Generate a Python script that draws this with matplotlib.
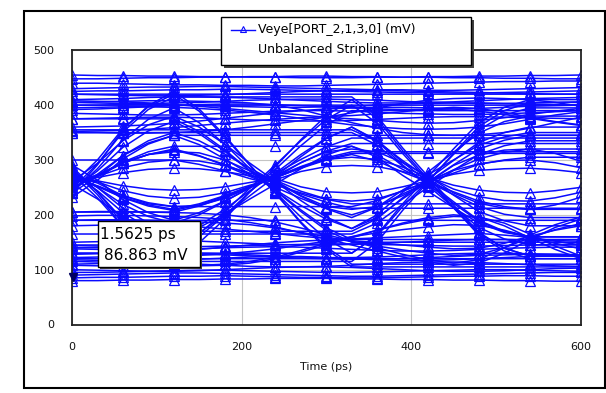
import matplotlib
matplotlib.use("Agg")
import matplotlib.pyplot as plt
from matplotlib.patches import Rectangle
from matplotlib.lines import Line2D

# Sample times (ps) shared by every trace, markers on every second sample.
TIME_PS = [0, 30, 60, 90, 120, 150, 180, 210, 240, 270, 300,
           330, 360, 390, 420, 450, 480, 510, 540, 570, 600]

# Main eye: transitions crossing near 20 / 230 / 420 ps.
EYE_TRACES = [
    [276, 244, 204, 176, 160, 180, 210, 244, 276, 310, 340, 360, 336, 296, 260, 224, 190, 170, 160, 160, 160],
    [246, 274, 308, 331, 345, 328, 302, 274, 246, 217, 192, 175, 195, 229, 260, 291, 320, 336, 345, 345, 345],
    [375, 375, 375, 375, 375, 352, 319, 280, 244, 206, 172, 150, 150, 150, 150, 150, 150, 150, 150, 150, 150],
    [190, 190, 190, 190, 190, 204, 225, 249, 271, 295, 316, 330, 330, 330, 330, 330, 330, 330, 330, 330, 330],
    [280, 250, 212, 185, 170, 170, 170, 170, 170, 170, 170, 170, 193, 231, 265, 299, 332, 350, 360, 360, 360],
    [240, 270, 308, 335, 350, 350, 350, 350, 350, 350, 350, 350, 327, 289, 255, 221, 188, 169, 160, 160, 160],
    [275, 250, 219, 197, 185, 200, 224, 250, 275, 301, 324, 340, 340, 340, 340, 340, 340, 340, 340, 340, 340],
    [245, 280, 323, 353, 370, 348, 316, 280, 245, 209, 176, 155, 155, 155, 155, 155, 155, 155, 155, 155, 155],
    [355, 355, 355, 355, 355, 355, 355, 355, 355, 355, 355, 355, 334, 299, 267, 236, 206, 189, 180, 180, 180],
    [165, 165, 165, 165, 165, 165, 165, 165, 165, 165, 165, 165, 185, 219, 250, 281, 310, 326, 335, 335, 335],
    [291, 263, 228, 204, 190, 190, 190, 190, 190, 190, 190, 190, 190, 190, 190, 190, 190, 190, 190, 190, 190],
    [232, 263, 302, 329, 345, 345, 345, 345, 345, 345, 345, 345, 345, 345, 345, 345, 345, 345, 345, 345, 345],
    [261, 294, 335, 364, 380, 360, 329, 294, 261, 226, 196, 175, 200, 241, 278, 314, 349, 370, 380, 380, 380],
    [256, 229, 196, 173, 160, 177, 201, 229, 256, 284, 309, 325, 305, 272, 243, 213, 185, 168, 160, 160, 160],
    [350, 350, 350, 350, 350, 335, 311, 285, 260, 234, 211, 195, 214, 245, 273, 300, 327, 342, 350, 350, 350],
    [145, 145, 145, 145, 145, 167, 199, 235, 270, 306, 339, 360, 334, 291, 253, 214, 177, 156, 145, 145, 145],
]

# Inner (small-swing) eye traces.
INNER_EYE_TRACES = [
    [268, 252, 232, 218, 210, 220, 235, 252, 268, 285, 300, 310, 298, 278, 260, 242, 225, 215, 210, 210, 210],
    [250, 270, 294, 310, 320, 308, 290, 270, 250, 230, 212, 200, 214, 238, 260, 282, 302, 314, 320, 320, 320],
    [300, 300, 300, 300, 300, 292, 280, 266, 254, 240, 228, 220, 220, 220, 220, 220, 220, 220, 220, 220, 220],
    [205, 205, 205, 205, 205, 216, 232, 251, 269, 288, 304, 315, 315, 315, 315, 315, 315, 315, 315, 315, 315],
    [267, 253, 235, 222, 215, 215, 215, 215, 215, 215, 215, 215, 226, 244, 260, 276, 292, 300, 305, 305, 305],
    [250, 270, 296, 315, 325, 325, 325, 325, 325, 325, 325, 325, 309, 283, 260, 237, 215, 201, 195, 195, 195],
    [268, 252, 231, 216, 208, 218, 234, 252, 268, 286, 302, 312, 312, 312, 312, 312, 312, 312, 312, 312, 312],
    [257, 273, 295, 310, 318, 307, 292, 273, 257, 238, 223, 212, 212, 212, 212, 212, 212, 212, 212, 212, 212],
]

# Arcs bulging inside the eye openings.
ARC_TRACES = [
    [262, 270, 286, 296, 300, 298, 290, 276, 263, 243, 229, 225, 229, 243, 261, 281, 293, 299, 300, 295, 286],
    [268, 260, 244, 234, 230, 232, 240, 254, 267, 287, 301, 305, 301, 287, 269, 247, 233, 226, 225, 231, 241],
    [262, 268, 277, 283, 285, 284, 279, 271, 264, 279, 288, 290, 288, 279, 268, 254, 245, 241, 240, 244, 250],
    [268, 262, 253, 247, 245, 246, 251, 259, 266, 251, 242, 240, 242, 251, 262, 274, 281, 284, 285, 282, 277],
    [258, 272, 295, 310, 315, 313, 300, 280, 262, 235, 215, 210, 215, 235, 259, 290, 309, 318, 320, 312, 298],
    [272, 258, 235, 220, 215, 217, 230, 250, 268, 295, 315, 320, 315, 295, 271, 240, 221, 212, 210, 218, 232],
]

# Wide-swing eye traces, same crossing times.
WIDE_EYE_TRACES = [
    [288, 242, 184, 143, 120, 149, 192, 242, 288, 337, 381, 410, 375, 317, 265, 213, 163, 134, 120, 120, 120],
    [241, 284, 337, 374, 395, 368, 329, 284, 241, 196, 156, 130, 162, 215, 262, 310, 355, 382, 395, 395, 395],
    [420, 420, 420, 420, 420, 389, 342, 290, 240, 187, 141, 110, 110, 110, 110, 110, 110, 110, 110, 110, 110],
    [140, 140, 140, 140, 140, 166, 205, 249, 291, 335, 374, 400, 400, 400, 400, 400, 400, 400, 400, 400, 400],
    [283, 237, 179, 138, 115, 115, 115, 115, 115, 115, 115, 115, 150, 208, 260, 312, 361, 390, 405, 405, 405],
    [247, 293, 351, 392, 415, 415, 415, 415, 415, 415, 415, 415, 380, 322, 270, 218, 168, 139, 125, 125, 125],
    [283, 242, 191, 155, 135, 160, 199, 242, 283, 326, 364, 390, 390, 390, 390, 390, 390, 390, 390, 390, 390],
    [239, 291, 355, 399, 425, 393, 345, 291, 239, 185, 137, 105, 105, 105, 105, 105, 105, 105, 105, 105, 105],
    [400, 400, 400, 400, 400, 400, 400, 400, 400, 400, 400, 400, 367, 312, 262, 213, 166, 139, 125, 125, 125],
    [130, 130, 130, 130, 130, 130, 130, 130, 130, 130, 130, 130, 164, 220, 270, 320, 368, 396, 410, 410, 410],
    [274, 231, 178, 141, 120, 120, 120, 120, 120, 120, 120, 120, 120, 120, 120, 120, 120, 120, 120, 120, 120],
    [255, 300, 357, 397, 420, 420, 420, 420, 420, 420, 420, 420, 420, 420, 420, 420, 420, 420, 420, 420, 420],
]

# Near-flat upper rails.
UPPER_RAILS = [
    [448, 448, 449, 450, 450, 451, 451, 452, 452, 453, 453, 452, 452, 451, 451, 450, 450, 449, 449, 448, 448],
    [440, 440, 439, 438, 437, 437, 436, 436, 435, 435, 436, 437, 438, 439, 440, 441, 442, 443, 443, 444, 444],
    [430, 431, 432, 433, 433, 434, 434, 433, 432, 431, 430, 429, 428, 428, 427, 427, 428, 429, 430, 431, 432],
    [420, 419, 418, 417, 417, 418, 419, 421, 423, 425, 426, 427, 427, 426, 425, 424, 423, 422, 421, 420, 420],
    [410, 411, 412, 414, 415, 415, 414, 413, 411, 409, 407, 405, 404, 404, 405, 406, 408, 410, 412, 413, 414],
    [400, 400, 401, 401, 400, 399, 398, 397, 396, 396, 397, 398, 400, 402, 403, 404, 404, 403, 402, 401, 400],
    [392, 393, 395, 397, 399, 401, 402, 402, 401, 399, 397, 395, 393, 392, 392, 393, 394, 396, 398, 399, 400],
    [385, 384, 383, 382, 382, 383, 385, 387, 389, 390, 390, 389, 387, 385, 384, 383, 383, 384, 386, 388, 390],
    [455, 454, 454, 453, 453, 452, 452, 451, 451, 450, 450, 450, 451, 451, 452, 452, 453, 453, 454, 454, 455],
    [425, 426, 426, 427, 428, 428, 429, 429, 428, 427, 426, 425, 424, 423, 423, 422, 422, 423, 424, 425, 426],
    [405, 404, 403, 403, 404, 405, 407, 409, 410, 411, 411, 410, 409, 407, 405, 404, 403, 403, 404, 405, 406],
    [375, 376, 377, 378, 378, 377, 375, 373, 372, 371, 371, 372, 374, 376, 378, 379, 379, 378, 377, 376, 375],
]

# Slow edges in the upper band.
UPPER_EDGES = [
    [405, 406, 407, 408, 408, 407, 406, 404, 400, 392, 380, 368, 358, 350, 346, 345, 346, 350, 358, 368, 378],
    [350, 350, 349, 349, 350, 352, 355, 360, 366, 372, 378, 386, 395, 403, 409, 412, 413, 412, 410, 405, 398],
    [395, 396, 397, 397, 396, 394, 391, 387, 382, 376, 370, 364, 360, 357, 356, 357, 360, 366, 374, 382, 388],
    [360, 361, 362, 364, 367, 371, 376, 381, 386, 390, 393, 395, 396, 396, 395, 393, 389, 383, 376, 369, 363],
    [352, 353, 354, 356, 359, 363, 367, 371, 374, 377, 379, 381, 384, 388, 393, 396, 394, 387, 378, 370, 364],
    [408, 407, 406, 404, 401, 398, 394, 390, 386, 382, 378, 375, 372, 369, 367, 368, 372, 377, 383, 389, 394],
]

# Near-flat lower rails.
LOWER_RAILS = [
    [80, 80, 81, 81, 82, 82, 83, 83, 84, 84, 84, 83, 83, 82, 82, 81, 81, 80, 80, 79, 79],
    [90, 91, 92, 93, 94, 94, 93, 92, 91, 90, 89, 88, 88, 89, 90, 91, 92, 93, 94, 95, 95],
    [100, 99, 98, 97, 97, 98, 100, 102, 104, 105, 105, 104, 102, 100, 98, 97, 97, 98, 100, 102, 103],
    [110, 111, 112, 112, 111, 110, 108, 106, 105, 105, 106, 108, 111, 113, 114, 114, 113, 111, 109, 107, 106],
    [118, 117, 116, 116, 117, 119, 121, 123, 124, 124, 122, 120, 118, 117, 117, 118, 120, 122, 124, 125, 125],
    [128, 129, 130, 131, 131, 130, 129, 127, 125, 123, 122, 122, 123, 125, 127, 129, 130, 130, 129, 128, 127],
    [138, 137, 136, 136, 137, 138, 140, 141, 142, 141, 139, 137, 135, 134, 134, 135, 137, 139, 140, 141, 141],
    [150, 151, 152, 153, 153, 152, 150, 148, 146, 145, 145, 146, 148, 150, 152, 154, 155, 155, 154, 153, 152],
    [85, 86, 86, 87, 88, 88, 89, 88, 87, 86, 86, 85, 85, 86, 87, 88, 88, 89, 89, 88, 88],
    [95, 95, 96, 97, 98, 99, 99, 98, 97, 96, 95, 95, 96, 97, 98, 99, 100, 100, 99, 98, 97],
    [122, 123, 125, 127, 128, 128, 127, 125, 123, 121, 120, 119, 119, 120, 122, 124, 126, 127, 128, 128, 127],
    [144, 143, 142, 141, 141, 142, 143, 144, 145, 146, 147, 147, 146, 145, 144, 143, 143, 144, 145, 146, 146],
]

# Slow edges in the lower band (crossing ~330 / ~530 ps).
LOWER_EDGES = [
    [115, 114, 112, 110, 108, 107, 108, 112, 120, 132, 145, 158, 172, 185, 195, 200, 196, 180, 158, 137, 120],
    [205, 206, 206, 205, 204, 203, 200, 195, 187, 176, 164, 152, 140, 128, 118, 112, 118, 140, 163, 182, 196],
    [180, 181, 182, 182, 181, 178, 174, 170, 166, 161, 157, 153, 149, 145, 141, 138, 139, 148, 161, 172, 180],
    [130, 130, 131, 132, 134, 137, 141, 145, 149, 152, 154, 156, 158, 160, 162, 164, 166, 163, 159, 152, 145],
    [108, 107, 106, 106, 107, 108, 110, 115, 123, 135, 148, 160, 172, 183, 192, 197, 196, 185, 165, 143, 125],
    [198, 199, 199, 198, 197, 195, 192, 186, 178, 167, 156, 145, 134, 123, 114, 108, 112, 130, 155, 177, 192],
    [190, 191, 191, 190, 189, 187, 185, 182, 176, 168, 160, 151, 143, 136, 130, 126, 128, 140, 158, 173, 184],
    [120, 120, 121, 122, 124, 126, 129, 133, 138, 145, 152, 160, 167, 173, 178, 182, 181, 172, 160, 148, 138],
]

CURSOR_T_PS = 1.5625
CURSOR_MV = 86.863
X_TICKS = [0, 200, 400, 600]
Y_TICKS = [0, 100, 200, 300, 400, 500]
LEGEND_LINES = ["Veye[PORT_2,1,3,0] (mV)", "Unbalanced Stripline"]

BLUE = "#0a0aff"
W, H = 606, 393


def fx(px):
    return px / W


def fy(py):
    return 1 - py / H


fig = plt.figure(figsize=(W / 100, H / 100), dpi=100)
fig.patch.set_facecolor("white")

# outer frame
fig.add_artist(Rectangle((fx(24), fy(388)), fx(605) - fx(24), (388 - 11) / H,
                         transform=fig.transFigure, fill=False, ec="black", lw=1.5))

ax = fig.add_axes([fx(72), fy(324.5), fx(580.6) - fx(72), (324.5 - 50.3) / H])
ax.set_xlim(0, 600)
ax.set_ylim(0, 500)
ax.set_xticks(X_TICKS)
ax.set_yticks(Y_TICKS)
ax.tick_params(length=0, labelsize=8, pad=12.5, colors="#111111")
ax.grid(True, color="#c4c4c4", lw=0.8, zorder=0)
ax.set_axisbelow(True)
for s in ax.spines.values():
    s.set_color("#222222")
    s.set_linewidth(1.3)
ax.set_xlabel("Time (ps)", fontsize=8, labelpad=7, color="#111111")

groups = (LOWER_RAILS, UPPER_RAILS, LOWER_EDGES, UPPER_EDGES,
          WIDE_EYE_TRACES, EYE_TRACES, INNER_EYE_TRACES, ARC_TRACES)
for group in groups:
    for tr in group:
        ax.plot(TIME_PS, tr, color=BLUE, lw=1.1, marker="^", markevery=2, ms=6.5,
                mfc="none", mec=BLUE, mew=0.9, zorder=2)

ax.plot([CURSOR_T_PS], [CURSOR_MV], marker="v", ms=6, color="#000060",
        linestyle="none", zorder=4, clip_on=False)

# cursor readout box
fig.add_artist(Rectangle((fx(99.5), fy(268.5)), fx(201.5) - fx(99.5), (268.5 - 222.5) / H,
                         transform=fig.transFigure, fc="#404040", ec="none", zorder=5))
fig.add_artist(Rectangle((fx(97.5), fy(266.5)), fx(199.5) - fx(97.5), (266.5 - 220.5) / H,
                         transform=fig.transFigure, fc="white", ec="black", lw=1, zorder=6))
fig.text(fx(100.5), fy(235), f"{CURSOR_T_PS:.4f} ps", fontsize=11, va="center", ha="left", zorder=7)
fig.text(fx(104.5), fy(255), f"{CURSOR_MV:.3f} mV", fontsize=11, va="center", ha="left", zorder=7)

# legend box
fig.add_artist(Rectangle((fx(223.5), fy(67.5)), fx(473.5) - fx(223.5), (67.5 - 20) / H,
                         transform=fig.transFigure, fc="#404040", ec="none", zorder=5))
fig.add_artist(Rectangle((fx(220.7), fy(64.6)), fx(470.8) - fx(220.7), (64.6 - 17.2) / H,
                         transform=fig.transFigure, fc="white", ec="black", lw=1, zorder=6))
fig.add_artist(Line2D([fx(231), fx(255)], [fy(30), fy(30)], transform=fig.transFigure,
                      color=BLUE, lw=1, zorder=7))
fig.add_artist(Line2D([fx(243)], [fy(29)], transform=fig.transFigure, marker="^", ms=5,
                      mfc="none", mec=BLUE, mew=0.8, zorder=7))
fig.text(fx(258), fy(30), LEGEND_LINES[0], fontsize=9, va="center", ha="left", zorder=7)
fig.text(fx(258), fy(49), LEGEND_LINES[1], fontsize=9, va="center", ha="left", zorder=7)

fig.savefig("out.png", dpi=100)
